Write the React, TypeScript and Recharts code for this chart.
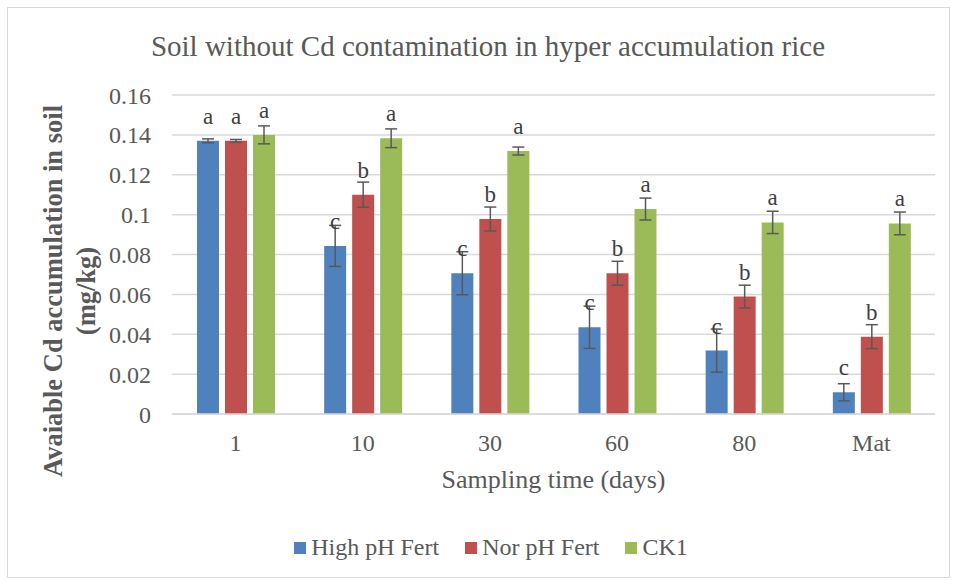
import React from "react";
import {
  BarChart,
  Bar,
  XAxis,
  YAxis,
  CartesianGrid,
  ErrorBar,
  LabelList,
  Label,
  Legend,
} from "recharts";

// sampling times (days)
const categories = ["1", "10", "30", "60", "80", "Mat"];

const highPh = [0.137, 0.0843, 0.0706, 0.0435, 0.0318, 0.0109];
const highPhErr = [0.001, 0.0103, 0.0108, 0.0106, 0.0108, 0.0043];
const highPhLetter = ["a", "c", "c", "c", "c", "c"];

const norPh = [0.137, 0.11, 0.0978, 0.0706, 0.0589, 0.0388];
const norPhErr = [0.0007, 0.0063, 0.006, 0.006, 0.0057, 0.006];
const norPhLetter = ["a", "b", "b", "b", "b", "b"];

const ck1 = [0.14, 0.1383, 0.1319, 0.1028, 0.0961, 0.0956];
const ck1Err = [0.0045, 0.0047, 0.002, 0.0055, 0.0056, 0.0057];
const ck1Letter = ["a", "a", "a", "a", "a", "a"];

const yTicks = [0, 0.02, 0.04, 0.06, 0.08, 0.1, 0.12, 0.14, 0.16];

const data = categories.map((c, i) => ({
  day: c,
  high: highPh[i],
  highErr: highPhErr[i],
  highLetter: highPhLetter[i],
  nor: norPh[i],
  norErr: norPhErr[i],
  norLetter: norPhLetter[i],
  ck: ck1[i],
  ckErr: ck1Err[i],
  ckLetter: ck1Letter[i],
}));

const FONT = "'Liberation Serif', 'Times New Roman', serif";
const TEXT = "#595959";

const series = [
  { key: "high", name: "High pH Fert", color: "#4F81BD" },
  { key: "nor", name: "Nor pH Fert", color: "#C0504D" },
  { key: "ck", name: "CK1", color: "#9BBB59" },
];

const renderLegend = () => (
  <div style={{ display: "flex", justifyContent: "center", fontFamily: FONT, fontSize: 24, color: TEXT }}>
    {series.map((s) => (
      <div key={s.key} style={{ display: "flex", alignItems: "center", margin: "0 13px" }}>
        <span style={{ width: 12, height: 12, background: s.color, marginRight: 5, display: "inline-block" }} />
        <span>{s.name}</span>
      </div>
    ))}
  </div>
);

const yLabel = () => (
  <text
    transform="translate(70, 291) rotate(-90)"
    textAnchor="middle"
    fontFamily={FONT}
    fontSize={26.5}
    fontWeight="bold"
    fill={TEXT}
  >
    <tspan x={0} y={-8}>Avaiable Cd accumulation in soil</tspan>
    <tspan x={0} y={25}>(mg/kg)</tspan>
  </text>
);

export default function App() {
  return (
    <div style={{ position: "absolute", left: 0, top: 0, width: 956, height: 581, background: "#fff" }}>
      <div
        style={{
          position: "absolute",
          left: 7,
          top: 7,
          width: 941,
          height: 569,
          border: "1px solid #d9d9d9",
        }}
      />
      <div
        style={{
          position: "absolute",
          left: 0,
          width: 976,
          top: 28,
          textAlign: "center",
          fontFamily: FONT,
          fontSize: 29,
          color: TEXT,
          lineHeight: "36px",
        }}
      >
        Soil without Cd contamination in hyper accumulation rice
      </div>
      <BarChart
        width={956}
        height={581}
        data={data}
        margin={{ top: 95, right: 21, bottom: 127, left: 100 }}
        barSize={22}
        barGap={6}
        style={{ position: "absolute", left: 0, top: 0 }}
      >
        <CartesianGrid vertical={false} stroke="#d9d9d9" strokeWidth={1.5} />
        <XAxis
          dataKey="day"
          height={40}
          axisLine={{ stroke: "#d9d9d9", strokeWidth: 1.5 }}
          tickLine={false}
          tickMargin={14}
          tick={{ fontFamily: FONT, fontSize: 24, fill: TEXT }}
        >
          <Label
            value="Sampling time (days)"
            position="insideBottom"
            offset={-34}
            style={{ fontFamily: FONT, fontSize: 26, fill: TEXT }}
          />
        </XAxis>
        <YAxis
          width={72}
          domain={[0, 0.16]}
          ticks={yTicks}
          axisLine={false}
          tickLine={false}
          tickSize={0}
          tickMargin={21}
          tick={{ fontFamily: FONT, fontSize: 24, fill: TEXT }}
        >
          <Label content={yLabel} />
        </YAxis>
        <Legend
          verticalAlign="middle"
          align="center"
          content={renderLegend}
          wrapperStyle={{ top: 534, left: 13, width: 956 }}
        />
        {series.map((s) => (
          <Bar key={s.key} dataKey={s.key} name={s.name} fill={s.color} isAnimationActive={false}>
            <ErrorBar dataKey={`${s.key}Err`} width={6} stroke="#595959" strokeWidth={1.5} direction="y" />
            <LabelList
              dataKey={`${s.key}Letter`}
              position="top"
              offset={17}
              style={{ fontFamily: FONT, fontSize: 23, fill: "#404040" }}
            />
          </Bar>
        ))}
      </BarChart>
    </div>
  );
}
